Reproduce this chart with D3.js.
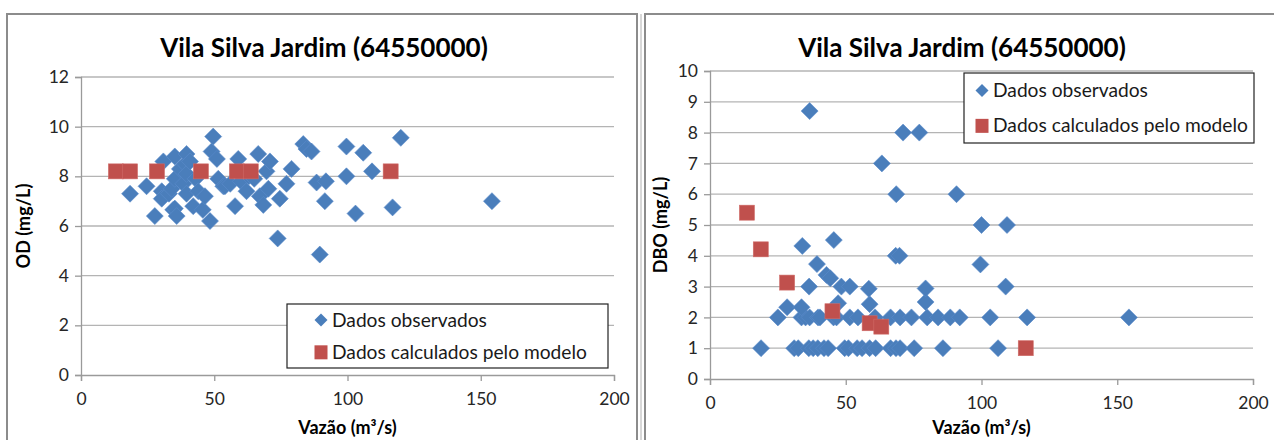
<!DOCTYPE html>
<html><head><meta charset="utf-8">
<script src="https://cdn.jsdelivr.net/npm/d3@7/dist/d3.min.js"></script>
<style>body{margin:0;background:#fff;} svg{display:block;}</style>
</head><body>
<svg id="c" width="1274" height="440"></svg>
<script>
// ---------- DATA ----------
const title = "Vila Silva Jardim (64550000)";
const xTitle = "Vazão (m³/s)";
const legendLabels = ["Dados observados", "Dados calculados pelo modelo"];
const xTicks = [0, 50, 100, 150, 200];

// OD chart
const odTicks = [0, 2, 4, 6, 8, 10, 12];
const odObsQ = [18.4,24.6,27.7,30.3,30.3,30.9,33,34,34.6,35.2,35.2,35.2,35.9,37.1,38.4,39,39.6,39.6,39.6,40.9,42.1,43,44,45.7,46.5,48.4,49,49.6,51,51.5,53.4,54,56,57.8,59,60,62.1,63,65,66.5,67.1,68.4,69.6,70.3,70.9,73.8,74.6,77.1,79,83.4,84.6,86.5,88.4,89.6,91.5,91.9,99.6,99.6,103,105.9,109.2,116.9,120,154.2];
const odObsV = [7.3,7.6,6.4,7.4,7.1,8.6,7.3,7.5,6.65,8.8,7.9,6.7,6.4,8.3,7.7,8.5,8.9,7.3,8.1,8.6,6.8,7.9,7.4,6.65,7.2,6.2,9.0,9.6,8.7,7.9,7.6,7.6,7.7,6.8,8.7,7.8,7.4,8.0,7.9,8.9,7.2,6.85,8.2,7.5,8.6,5.5,7.1,7.7,8.3,9.3,9.1,9.0,7.75,4.85,7.0,7.8,9.2,8.0,6.5,8.95,8.2,6.75,9.55,7.0];
const odModQ = [13.1,18.4,28.5,45,58.5,63.7,116.2];
const odModV = [8.2,8.2,8.2,8.2,8.2,8.2,8.2];

// DBO chart
const dboTicks = [0,1,2,3,4,5,6,7,8,9,10];
const dboObsQ = [18.8,31,32.5,36.4,38,39.7,42,43.5,49.6,51,54.2,56,58.8,61,66.5,68.5,70,75.2,85.8,106.1,
  25,33.7,35.2,36.7,39.8,40.5,45.5,46.6,51.5,54.5,60.8,66.5,70,74.2,80,84,88.5,92,103.2,116.8,154.3,
  28.4,33.7,47.2,58.8,79.4,36.5,48.4,51.5,58.5,79.4,108.9,42.9,44.3,39.4,99.6,34,45.6,68.4,69.8,100,109.4,68.6,90.8,63.3,71.1,77.1,36.7];
const dboObsV = [1,1,1,1,1,1,1,1,1,1,1,1,1,1,1,1,1,1,1,1,
  2,2,2,2,2,2,2,2,2,2,2,2,2,2,2,2,2,2,2,2,2,
  2.33,2.33,2.46,2.43,2.5,3.0,3.0,3.0,2.93,2.94,3.0,3.38,3.27,3.73,3.72,4.32,4.51,4.0,4.0,5.0,5.0,6.0,6.0,7.0,8.0,8.0,8.7];
const dboModQ = [13.6,18.7,28.4,45.1,58.8,63.1,116.3];
const dboModV = [5.4,4.21,3.13,2.2,1.81,1.70,1.0];

// ---------- STYLE ----------
const BLUE = "#4a7ebb", RED = "#c0504d";
const FONT = "Lato, 'Open Sans', sans-serif";
const svg = d3.select("#c");

function chart(o) {
  const g = svg.append("g");
  g.append("rect").attr("x", o.frame[0]).attr("y", o.frame[1]).attr("width", o.frame[2]).attr("height", o.frame[3])
    .attr("fill", "#fff").attr("stroke", "#8c8c8c").attr("stroke-width", 2);

  const x = d3.scaleLinear().domain([0, 200]).range([o.px0, o.px1]);
  const y = d3.scaleLinear().domain([0, o.ymax]).range([o.py0, o.py1]);

  g.append("g").selectAll("line").data(o.yTicks.filter(d => d > 0)).join("line")
    .attr("x1", o.px0).attr("x2", o.px1).attr("y1", d => y(d)).attr("y2", d => y(d))
    .attr("stroke", "#b4b4b4").attr("stroke-width", 1.3);

  const ya = g.append("g").attr("transform", `translate(${o.px0},0)`)
    .call(d3.axisLeft(y).tickValues(o.yTicks).tickSize(6).tickPadding(6).tickFormat(d3.format("d")));
  const xa = g.append("g").attr("transform", `translate(0,${o.py0})`)
    .call(d3.axisBottom(x).tickValues(xTicks).tickSize(6).tickPadding(12).tickFormat(d3.format("d")));
  [ya, xa].forEach(a => {
    a.select(".domain").attr("stroke", "#9a9a9a").attr("stroke-width", 1.3);
    a.selectAll(".tick line").attr("stroke", "#9a9a9a").attr("stroke-width", 1.3);
    a.selectAll("text").attr("font-family", FONT).attr("font-size", 17.5).attr("fill", "#262626");
  });

  const obs = o.obsQ.map((q, i) => [q, o.obsV[i]]);
  const mod = o.modQ.map((q, i) => [q, o.modV[i]]);
  const dS = 8.5;
  g.append("g").selectAll("path").data(obs).join("path")
    .attr("d", d => `M${x(d[0])},${y(d[1]) - dS}L${x(d[0]) + dS},${y(d[1])}L${x(d[0])},${y(d[1]) + dS}L${x(d[0]) - dS},${y(d[1])}Z`)
    .attr("fill", BLUE).attr("stroke", "#5b8ccb").attr("stroke-width", 0.6);
  const sS = 15;
  g.append("g").selectAll("rect").data(mod).join("rect")
    .attr("x", d => x(d[0]) - sS / 2).attr("y", d => y(d[1]) - sS / 2)
    .attr("width", sS).attr("height", sS).attr("fill", RED).attr("stroke", "#cf6b68").attr("stroke-width", 0.6);

  g.append("text").attr("x", o.titleX).attr("y", 57).attr("text-anchor", "middle")
    .attr("font-family", FONT).attr("font-weight", "bold").attr("font-size", 26).attr("fill", "#000").text(title);
  g.append("text").attr("x", (o.px0 + o.px1) / 2).attr("y", 434).attr("text-anchor", "middle")
    .attr("font-family", FONT).attr("font-weight", "bold").attr("font-size", 18).attr("fill", "#000").text(xTitle);
  g.append("text").attr("transform", `translate(${o.yTitleX},${(o.py0 + o.py1) / 2}) rotate(-90)`)
    .attr("text-anchor", "middle").attr("font-family", FONT).attr("font-weight", "bold").attr("font-size", 18)
    .attr("fill", "#000").text(o.yTitle);

  const L = o.legend;
  g.append("rect").attr("x", L[0]).attr("y", L[1]).attr("width", L[2]).attr("height", L[3])
    .attr("fill", "#fff").attr("stroke", "#222").attr("stroke-width", 1.2);
  const mx = L[0] + o.legMx, r1 = L[1] + L[3] * 0.25, r2 = L[1] + L[3] * 0.755;
  g.append("path").attr("d", `M${mx},${r1 - 6.5}L${mx + 6.5},${r1}L${mx},${r1 + 6.5}L${mx - 6.5},${r1}Z`).attr("fill", BLUE);
  g.append("rect").attr("x", mx - 6.5).attr("y", r2 - 7).attr("width", 13).attr("height", 14).attr("fill", RED);
  [r1, r2].forEach((r, i) => {
    g.append("text").attr("x", mx + 11).attr("y", r + 6.5).attr("font-family", FONT).attr("font-size", 19.2)
      .attr("fill", "#1a1a1a").text(legendLabels[i]);
  });
}

chart({frame: [7, 14, 630, 440], px0: 81, px1: 614, py0: 375, py1: 77, ymax: 12, yTicks: odTicks,
  obsQ: odObsQ, obsV: odObsV, modQ: odModQ, modV: odModV, titleX: 324, yTitle: "OD (mg/L)", yTitleX: 30,
  legend: [287, 304, 321, 64], legMx: 34});
chart({frame: [645, 14, 640, 440], px0: 710, px1: 1253, py0: 379, py1: 71, ymax: 10, yTicks: dboTicks,
  obsQ: dboObsQ, obsV: dboObsV, modQ: dboModQ, modV: dboModV, titleX: 962, yTitle: "DBO (mg/L)", yTitleX: 667,
  legend: [964, 73, 290, 70], legMx: 18});
svg.append("line").attr("x1", 641).attr("x2", 641).attr("y1", 14).attr("y2", 440).attr("stroke", "#b0b0b0").attr("stroke-width", 1);
</script>
</body></html>
